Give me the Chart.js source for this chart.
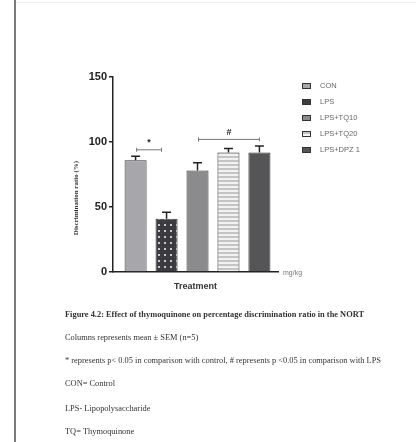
<!DOCTYPE html>
<html>
<head>
<meta charset="utf-8">
<script src="https://cdn.jsdelivr.net/npm/chart.js@4/dist/chart.umd.min.js"></script>
<style>
  html, body { margin: 0; padding: 0; background: #fff; }
  canvas { display: block; }
</style>
</head>
<body>
<canvas id="c" width="416" height="442"></canvas>
<script>
// Treatment groups and NORT discrimination ratio (%), mean and SEM
const groups = ['CON', 'LPS', 'LPS+TQ10', 'LPS+TQ20', 'LPS+DPZ 1'];
const meanRatio = [86, 41, 78, 92, 92];
const semRatio = [3, 5, 6, 3, 5];
const yTicks = [0, 50, 100, 150];

const captionLines = [
  { text: 'Figure 4.2: Effect of thymoquinone on percentage discrimination ratio in the NORT', bold: true },
  { text: 'Columns represents mean \u00b1 SEM (n=5)', bold: false },
  { text: '* represents p< 0.05 in comparison with control, # represents p <0.05 in comparison with LPS', bold: false },
  { text: 'CON= Control', bold: false },
  { text: 'LPS- Lipopolysaccharide', bold: false },
  { text: 'TQ= Thymoquinone', bold: false }
];

const ctx = document.getElementById('c').getContext('2d');

function dotPattern() {
  const p = document.createElement('canvas');
  p.width = 6; p.height = 6;
  const g = p.getContext('2d');
  g.fillStyle = '#3c3c40';
  g.fillRect(0, 0, 6, 6);
  g.fillStyle = '#c8c8cc';
  g.fillRect(2, 2, 2, 2);
  return ctx.createPattern(p, 'repeat');
}
function stripePattern() {
  const p = document.createElement('canvas');
  p.width = 4; p.height = 4;
  const g = p.getContext('2d');
  g.fillStyle = '#f2f2f2';
  g.fillRect(0, 0, 4, 4);
  g.fillStyle = '#c4c4c4';
  g.fillRect(0, 0, 4, 2);
  return ctx.createPattern(p, 'repeat');
}

const fills = ['#a7a7ab', dotPattern(), '#8b8b8d', stripePattern(), '#555557'];

// Error bars, significance brackets, legend and caption
const extras = {
  id: 'extras',
  afterDatasetsDraw(chart) {
    const c = chart.ctx;
    const xs = chart.scales.x, ys = chart.scales.y;
    c.save();
    // SEM whiskers
    c.strokeStyle = '#222';
    c.lineWidth = 1.5;
    meanRatio.forEach((v, i) => {
      const x = xs.getPixelForValue(i);
      const y0 = ys.getPixelForValue(v);
      const y1 = ys.getPixelForValue(v + semRatio[i]);
      c.beginPath();
      c.moveTo(x, y0); c.lineTo(x, y1);
      c.moveTo(x - 4.5, y1); c.lineTo(x + 4.5, y1);
      c.stroke();
    });
    // significance brackets
    c.strokeStyle = '#777';
    c.lineWidth = 1;
    function bracket(a, b, val, sym, endInset) {
      const xa = xs.getPixelForValue(a) + 1, xb = xs.getPixelForValue(b) - endInset;
      const y = ys.getPixelForValue(val);
      c.beginPath();
      c.moveTo(xa, y); c.lineTo(xb, y);
      c.moveTo(xa, y - 2); c.lineTo(xa, y + 2);
      c.moveTo(xb, y - 2); c.lineTo(xb, y + 2);
      c.stroke();
      c.fillStyle = '#222';
      c.font = 'bold 9px Arial, "Liberation Sans"';
      c.textAlign = 'center';
      c.textBaseline = 'middle';
      c.fillText(sym, (xa + xb) / 2, y - 7);
    }
    bracket(0, 1, 94, '*', 5);
    bracket(2, 4, 102, '#', 0);

    // legend
    c.font = '7.5px Arial, "Liberation Sans"';
    c.textAlign = 'left';
    c.textBaseline = 'middle';
    groups.forEach((g, i) => {
      const y = 86 + i * 16;
      c.fillStyle = fills[i];
      c.fillRect(302, y - 3, 9, 6);
      c.strokeStyle = '#333';
      c.lineWidth = 1;
      c.strokeRect(302.5, y - 2.5, 8, 5);
      c.fillStyle = '#666';
      c.fillText(g, 320, y);
    });

    // unit label at the end of the x axis
    c.fillStyle = '#777';
    c.font = '7px Arial, "Liberation Sans"';
    c.fillText('mg/kg', 283, chart.chartArea.bottom + 1);

    // y-axis title
    c.save();
    c.translate(76, 198);
    c.rotate(-Math.PI / 2);
    c.textAlign = 'center';
    c.fillStyle = '#333';
    c.font = 'bold 7px "Liberation Serif", serif';
    c.fillText('Discrimination ratio (%)', 0, 0);
    c.restore();

    // caption
    c.textAlign = 'left';
    c.textBaseline = 'middle';
    c.fillStyle = '#333';
    const capY = [315, 338, 361, 384, 409, 432];
    captionLines.forEach((l, i) => {
      c.font = (l.bold ? 'bold ' : '') + '8.4px "Liberation Serif", "Times New Roman", serif';
      c.fillText(l.text, 65, capY[i]);
    });

    // page edge
    c.fillStyle = '#7a7a7a';
    c.fillRect(14, 0, 2, 442);
    c.fillStyle = '#eeeeee';
    c.fillRect(16, 2, 400, 1);
    c.restore();
  }
};

new Chart(ctx, {
  type: 'bar',
  data: {
    datasets: [{
      data: meanRatio.map((v, i) => ({ x: i, y: v })),
      backgroundColor: fills,
      borderColor: '#333',
      borderWidth: 1,
      categoryPercentage: 0.8,
      barPercentage: 0.89
    }]
  },
  options: {
    responsive: false,
    devicePixelRatio: 1,
    animation: false,
    layout: { padding: { left: 60, right: 138, top: 77, bottom: 150 } },
    plugins: { legend: { display: false }, tooltip: { enabled: false } },
    scales: {
      x: {
        type: 'linear',
        offset: false,
        min: -0.73,
        max: 4.6,
        ticks: { display: false },
        grid: { display: false },
        border: { display: true, color: '#222', width: 1.5 },
        title: {
          display: true,
          text: 'Treatment',
          color: '#333',
          font: { family: 'Arial, "Liberation Sans"', size: 9, weight: 'bold' },
          padding: { top: 4, bottom: 0 }
        },
        afterFit(s) { s.height = 20; }
      },
      y: {
        min: 0,
        max: 150,
        afterBuildTicks(s) { s.ticks = yTicks.map(v => ({ value: v })); },
        ticks: {
          color: '#222',
          padding: 2,
          font: { family: 'Arial, "Liberation Sans"', size: 11, weight: 'bold' }
        },
        grid: { display: true, drawOnChartArea: false, drawTicks: true, tickLength: 4, color: '#222', lineWidth: 1.5 },
        border: { display: true, color: '#222', width: 1.5 },
        afterFit(s) { s.width = 53; }
      }
    }
  },
  plugins: [extras]
});
</script>
</body>
</html>
